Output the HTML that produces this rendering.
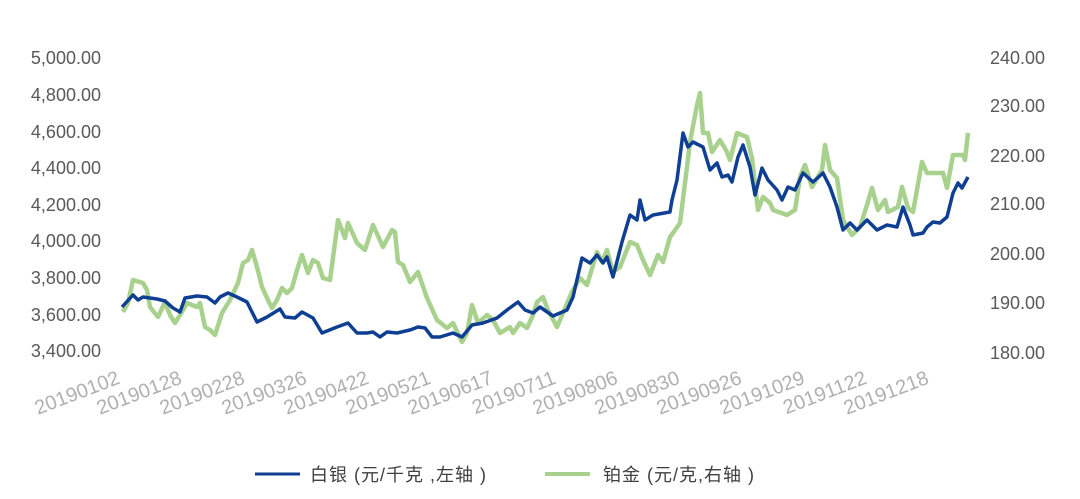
<!DOCTYPE html>
<html><head><meta charset="utf-8"><style>
body{margin:0;background:#fff;}
svg text{font-family:"Liberation Sans","Noto Sans CJK SC",sans-serif;}
</style></head><body>
<svg width="1080" height="494" viewBox="0 0 1080 494" xmlns="http://www.w3.org/2000/svg">
<g font-size="18" fill="#595959" text-anchor="end">
<text x="101" y="64">5,000.00</text>
<text x="101" y="101">4,800.00</text>
<text x="101" y="138">4,600.00</text>
<text x="101" y="174">4,400.00</text>
<text x="101" y="211">4,200.00</text>
<text x="101" y="247">4,000.00</text>
<text x="101" y="284">3,800.00</text>
<text x="101" y="321">3,600.00</text>
<text x="101" y="357">3,400.00</text>
</g>
<g font-size="18" fill="#595959" text-anchor="start">
<text x="990" y="64">240.00</text>
<text x="990" y="112">230.00</text>
<text x="990" y="162">220.00</text>
<text x="990" y="210">210.00</text>
<text x="990" y="260">200.00</text>
<text x="990" y="309">190.00</text>
<text x="990" y="359">180.00</text>
</g>
<g font-size="20" fill="#b0b0b0" text-anchor="end">
<text transform="translate(121,383) rotate(-21)">20190102</text>
<text transform="translate(183,383) rotate(-21)">20190128</text>
<text transform="translate(246,383) rotate(-21)">20190228</text>
<text transform="translate(308,383) rotate(-21)">20190326</text>
<text transform="translate(370,383) rotate(-21)">20190422</text>
<text transform="translate(432,383) rotate(-21)">20190521</text>
<text transform="translate(494,383) rotate(-21)">20190617</text>
<text transform="translate(557,383) rotate(-21)">20190711</text>
<text transform="translate(619,383) rotate(-21)">20190806</text>
<text transform="translate(681,383) rotate(-21)">20190830</text>
<text transform="translate(743,383) rotate(-21)">20190926</text>
<text transform="translate(806,383) rotate(-21)">20191029</text>
<text transform="translate(868,383) rotate(-21)">20191122</text>
<text transform="translate(930,383) rotate(-21)">20191218</text>
</g>
<polyline fill="none" stroke="#a9d18e" stroke-width="4.5" stroke-linejoin="round" points="123,312 128,303 133,280 143,283 147,290 150,307 158,317 165,302 170,315 175,323 183,310 187,303 197,307 200,303 205,327 210,330 215,335 222,313 230,300 238,283 243,263 248,260 252,250 257,267 262,287 268,300 272,308 277,300 282,288 287,293 292,288 297,270 302,255 308,273 313,260 318,263 323,278 330,280 338,220 345,238 348,223 357,243 365,250 373,225 383,247 392,230 395,232 398,262 403,265 410,282 418,272 427,298 437,320 447,328 453,323 462,342 467,333 472,305 478,323 487,315 493,320 500,333 510,327 513,333 520,323 527,328 533,315 537,302 543,297 548,310 557,327 563,313 572,292 580,278 587,285 597,252 602,262 607,250 613,272 620,267 630,242 637,245 643,260 650,275 658,255 663,262 670,237 673,233 680,223 687,167 690,142 697,105 700,93 703,133 708,133 712,152 720,140 727,152 730,160 737,133 747,137 752,158 758,210 763,197 770,203 773,210 787,215 795,210 800,177 805,165 812,187 822,170 825,145 830,170 837,178 843,220 852,235 860,227 867,205 872,188 878,210 885,200 888,212 898,207 902,187 908,208 913,212 922,162 927,173 943,173 947,188 953,155 963,155 965,160 968,133"/>
<polyline fill="none" stroke="#0f3f92" stroke-width="3.5" stroke-linejoin="round" points="122,307 133,295 138,300 143,297 157,299 165,301 173,308 180,312 185,298 197,296 207,297 215,303 220,297 228,293 237,297 247,302 257,322 267,317 280,309 285,317 295,318 302,312 313,318 322,333 337,327 348,323 357,333 367,333 373,332 380,337 387,332 397,333 410,330 418,327 425,328 432,337 440,337 453,333 462,337 472,325 483,323 497,318 507,310 518,302 525,310 533,313 540,307 553,316 567,310 573,297 582,258 590,263 597,255 603,263 607,257 613,277 622,242 630,215 637,220 640,200 645,220 653,215 670,212 672,200 677,180 683,133 688,147 693,142 703,147 710,170 717,163 722,177 728,175 732,182 738,157 743,145 750,167 755,195 762,168 768,180 777,190 782,200 788,187 795,190 803,173 813,182 823,173 830,187 837,207 843,230 850,223 857,230 867,220 877,230 887,225 897,227 903,207 910,225 913,235 923,233 927,227 933,222 940,223 947,217 953,193 958,183 962,188 968,177"/>
<line x1="255" y1="474" x2="300" y2="474" stroke="#0f3f92" stroke-width="3"/>
<text x="310" y="481" font-size="18" letter-spacing="1" fill="#404040">白银 (元/千克 ,左轴 )</text>
<line x1="545" y1="474" x2="590" y2="474" stroke="#a9d18e" stroke-width="4"/>
<text x="603" y="481" font-size="18" letter-spacing="1" fill="#404040">铂金 (元/克,右轴 )</text>
</svg>
</body></html>
